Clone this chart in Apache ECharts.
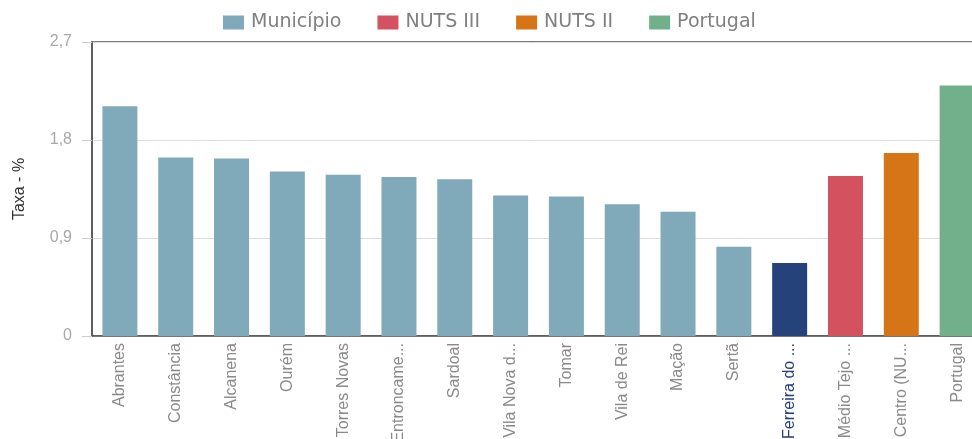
<!DOCTYPE html>
<html>
<head>
<meta charset="utf-8">
<script src="https://cdn.jsdelivr.net/npm/echarts@6/dist/echarts.min.js"></script>
<style>
  html, body { margin: 0; padding: 0; background: #fff; }
  #chart { width: 972px; height: 439px; }
</style>
</head>
<body>
<div id="chart"></div>
<script>
// categorias e rótulos mostrados no eixo
const categories = ['Abrantes', 'Constância', 'Alcanena', 'Ourém', 'Torres Novas', 'Entroncamento',
  'Sardoal', 'Vila Nova da Barquinha', 'Tomar', 'Vila de Rei', 'Mação', 'Sertã',
  'Ferreira do Zêzere', 'Médio Tejo (NUTS III)', 'Centro (NUTS II)', 'Portugal']
const tickLabels = ['Abrantes', 'Constância', 'Alcanena', 'Ourém', 'Torres Novas', 'Entroncame...',
  'Sardoal', 'Vila Nova d...', 'Tomar', 'Vila de Rei', 'Mação', 'Sertã',
  'Ferreira do ...', 'Médio Tejo ...', 'Centro (NU...', 'Portugal']
const municipio = [2.11, 1.64, 1.63, 1.51, 1.48, 1.46, 1.44, 1.29, 1.28, 1.21, 1.14, 0.82, 0.67]
const nuts3 = 1.47
const nuts2 = 1.68
const portugal = 2.30
const yTicks = [0, 0.9, 1.8, 2.7]
const selected = 12 // Ferreira do Zêzere

const chart = echarts.init(document.getElementById('chart'))

const pad = (arr) => categories.map((c, i) => (i < arr.length ? arr[i] : '-'))
const only = (idx, v) => categories.map((c, i) => (i === idx ? v : '-'))

chart.setOption({
  animation: false,
  legend: {
    top: 8,
    left: 218,
    icon: 'rect',
    itemWidth: 21,
    itemHeight: 14,
    itemGap: 36,
    textStyle: { fontFamily: 'DejaVu Sans', fontSize: 19, color: '#808080', padding: [0, 0, 0, 2] },
    data: ['Município', 'NUTS III', 'NUTS II', 'Portugal']
  },
  grid: {
    left: 92,
    top: 42,
    width: 893,
    bottom: 103,
    outerBoundsMode: 'none',
    show: true,
    borderColor: '#555',
    borderWidth: 1.5
  },
  xAxis: {
    type: 'category',
    data: categories,
    axisLine: { lineStyle: { color: '#555', width: 1.5 } },
    axisTick: { show: false },
    axisLabel: {
      rotate: 90,
      interval: 0,
      margin: 7,
      fontFamily: 'Liberation Sans',
      fontSize: 16,
      color: (v, i) => (i === selected ? '#24417a' : '#8a8a8a'),
      formatter: (v, i) => tickLabels[i]
    }
  },
  yAxis: {
    type: 'value',
    min: 0,
    max: yTicks[yTicks.length - 1],
    interval: 0.9,
    name: 'Taxa - %',
    nameLocation: 'middle',
    nameGap: 64,
    nameTextStyle: { fontFamily: 'Liberation Sans', fontSize: 16, color: '#333' },
    axisLine: { show: true, lineStyle: { color: '#555', width: 1.5 } },
    axisTick: { show: true, length: 10, lineStyle: { color: '#ccc' } },
    splitLine: { lineStyle: { color: '#ddd' } },
    axisLabel: {
      margin: 20,
      fontFamily: 'Liberation Sans',
      fontSize: 16,
      color: '#a8a8a8',
      formatter: (v) => String(Math.round(v * 10) / 10).replace('.', ',')
    }
  },
  series: [
    {
      name: 'Município',
      type: 'bar',
      stack: 'all',
      barWidth: 35,
      itemStyle: { color: '#80a9b9' },
      data: pad(municipio).map((v, i) =>
        i === selected ? { value: v, itemStyle: { color: '#25427b' } } : v)
    },
    {
      name: 'NUTS III',
      type: 'bar',
      stack: 'all',
      barWidth: 35,
      itemStyle: { color: '#d4525f' },
      data: only(13, nuts3)
    },
    {
      name: 'NUTS II',
      type: 'bar',
      stack: 'all',
      barWidth: 35,
      itemStyle: { color: '#d67518' },
      data: only(14, nuts2)
    },
    {
      name: 'Portugal',
      type: 'bar',
      stack: 'all',
      barWidth: 35,
      itemStyle: { color: '#72b08b' },
      data: only(15, portugal)
    }
  ]
})
</script>
</body>
</html>
